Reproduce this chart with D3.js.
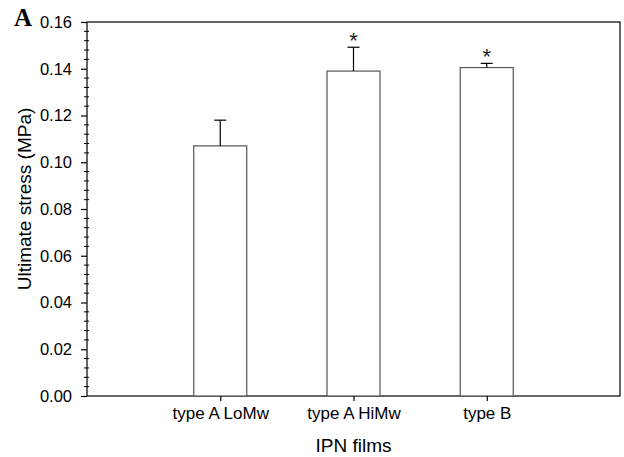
<!DOCTYPE html>
<html><head><meta charset="utf-8">
<script src="https://cdn.jsdelivr.net/npm/d3@7"></script>
<style>body{margin:0;background:#fff}svg{display:block}</style>
</head><body>
<script>
const categories = ["type A LoMw", "type A HiMw", "type B"];
const values = [0.107, 0.139, 0.1405];
const errors = [0.011, 0.0102, 0.0018];
const significant = [false, true, true];
const yTicks = [0.00, 0.02, 0.04, 0.06, 0.08, 0.10, 0.12, 0.14, 0.16];

const W = 624, H = 457;
const m = {left: 87, right: 4, top: 22, bottom: 61};
const svg = d3.select("body").append("svg").attr("width", W).attr("height", H);
const font = "'Liberation Sans', Arial, Helvetica, sans-serif";

const x = d3.scaleLinear().domain([0, 4]).range([m.left, W - m.right]);
const y = d3.scaleLinear().domain([0, 0.16]).range([H - m.bottom, m.top]);

// frame
svg.append("rect").attr("x", x(0)).attr("y", y(0.16))
  .attr("width", x(4) - x(0)).attr("height", y(0) - y(0.16))
  .attr("fill", "none").attr("stroke", "#000").attr("stroke-width", 1.2);

// bars
const bw = 53;
const g = svg.append("g");
g.selectAll("rect.bar").data(values).join("rect").attr("class", "bar")
  .attr("x", (d, i) => x(i + 1) - bw / 2).attr("width", bw)
  .attr("y", d => y(d)).attr("height", d => y(0) - y(d))
  .attr("fill", "#fff").attr("stroke", "#555").attr("stroke-width", 1.2);

// error bars
g.selectAll("line.err").data(values).join("line")
  .attr("x1", (d, i) => x(i + 1)).attr("x2", (d, i) => x(i + 1))
  .attr("y1", d => y(d)).attr("y2", (d, i) => y(d + errors[i]))
  .attr("stroke", "#000").attr("stroke-width", 1.2);
g.selectAll("line.cap").data(values).join("line")
  .attr("x1", (d, i) => x(i + 1) - 6).attr("x2", (d, i) => x(i + 1) + 6)
  .attr("y1", (d, i) => y(d + errors[i])).attr("y2", (d, i) => y(d + errors[i]))
  .attr("stroke", "#000").attr("stroke-width", 1.2);
g.selectAll("text.star").data(values).join("text")
  .attr("x", (d, i) => x(i + 1)).attr("y", (d, i) => y(d + errors[i]) + 1)
  .attr("text-anchor", "middle").attr("font-family", font).attr("fill", "#222")
  .attr("font-size", 22).text((d, i) => significant[i] ? "*" : "");

// y axis
const yAxis = d3.axisLeft(y).tickValues(yTicks).tickFormat(d3.format(".2f")).tickSize(6).tickSizeOuter(0);
const ya = svg.append("g").attr("transform", `translate(${m.left},0)`).call(yAxis);
ya.select(".domain").remove();
ya.selectAll("text").attr("font-family", font).attr("font-size", 16.5).attr("fill", "#000").attr("x", -15);
ya.selectAll("line").attr("stroke-width", 1.2);
const minor = d3.range(0, 0.1601, 0.004).filter(v => Math.abs(v / 0.02 - Math.round(v / 0.02)) > 1e-6);
svg.append("g").selectAll("line").data(minor).join("line")
  .attr("x1", m.left - 3).attr("x2", m.left + 2)
  .attr("y1", d => y(d)).attr("y2", d => y(d)).attr("stroke", "#000").attr("stroke-width", 1);

// x axis
const xAxis = d3.axisBottom(x).tickValues([1, 2, 3]).tickFormat(d => categories[d - 1]).tickSize(5).tickSizeOuter(0);
const xa = svg.append("g").attr("transform", `translate(0,${y(0)})`).call(xAxis);
xa.select(".domain").remove();
xa.selectAll("text").attr("font-family", font).attr("font-size", 17).attr("fill", "#000")
  .attr("y", 23).attr("dy", null);
xa.selectAll("line").attr("stroke-width", 1.2);

// labels
svg.append("text").attr("x", x(2)).attr("y", 452).attr("text-anchor", "middle")
  .attr("font-family", font).attr("font-size", 19).text("IPN films");
svg.append("text").attr("transform", `translate(31,199) rotate(-90)`)
  .attr("text-anchor", "middle").attr("font-family", font).attr("font-size", 19)
  .text("Ultimate stress (MPa)");
svg.append("text").attr("x", 14).attr("y", 26).attr("font-family", "'Liberation Serif', 'Times New Roman', serif")
  .attr("font-weight", "bold").attr("font-size", 25).text("A");
</script>
</body></html>
